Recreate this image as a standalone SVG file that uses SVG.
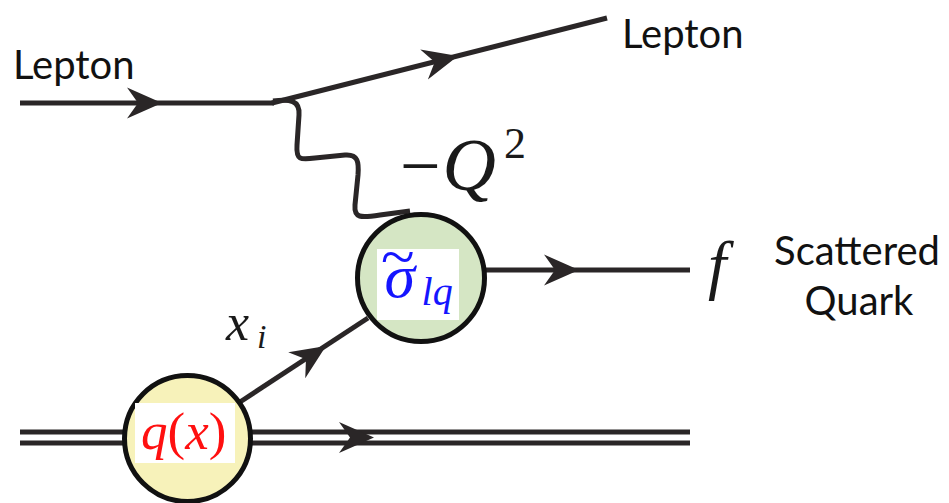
<svg xmlns="http://www.w3.org/2000/svg" width="949" height="503" viewBox="0 0 949 503">
<style>
.ln{stroke:#2a2627;stroke-width:5;fill:none}
.ah{fill:#2a2627}
.lbl{font-family:Lato,"Liberation Sans",sans-serif;font-size:40px;fill:#111}
.m{font-family:"Liberation Serif",serif;font-style:italic;fill:#1a1a1a}
.mu{font-family:"Liberation Serif",serif;fill:#1a1a1a}
.node{stroke:#111;stroke-width:5}
.blue{fill:#1515ff}
.red{fill:#ff1010}
</style>
<defs>
<path id="ah" d="M0,0 L-35,-15.5 L-24,0 L-35,15.5 Z"/>
</defs>
<rect width="949" height="503" fill="#fff"/>
<g id="connectors">
<line class="ln" x1="20" y1="103" x2="274" y2="103"/>
<line class="ln" x1="272" y1="103" x2="607" y2="18"/>
<path class="ln" d="M273,101 C290,99 300,100 299,115 L297,145 C296,160 300,160 315,158 L345,155 C358,154 359,162 358,175 L355,205 C354,218 360,218 380,215 L410,211"/>
<line class="ln" x1="485" y1="270" x2="690" y2="270"/>
<line class="ln" x1="240" y1="402" x2="368" y2="318"/>
<line class="ln" x1="20" y1="432" x2="690" y2="432" style="stroke-width:4.8"/>
<line class="ln" x1="20" y1="443" x2="690" y2="443" style="stroke-width:4.8"/>
<use href="#ah" class="ah" transform="translate(162,103)"/>
<use href="#ah" class="ah" transform="translate(458,56) rotate(-14.2)"/>
<use href="#ah" class="ah" transform="translate(326,346) rotate(-33.3)"/>
<use href="#ah" class="ah" transform="translate(579,270)"/>
<use href="#ah" class="ah" transform="translate(374,437.5)"/>
</g>
<g id="label-lepton-in"><text class="lbl" x="13" y="79">Lepton</text></g>
<g id="label-lepton-out"><text class="lbl" x="622" y="48">Lepton</text></g>
<g id="label-q2">
<text x="400" y="190" font-size="72"><tspan class="mu">−</tspan><tspan class="m" font-size="74" dx="2">Q</tspan><tspan class="mu" font-size="44" dx="8" dy="-32">2</tspan></text>
</g>
<g id="sigma">
<circle class="node" cx="421" cy="278" r="63.5" fill="#d5e6c4"/>
<rect x="377" y="249" width="82" height="71" fill="#fff"/>
<text x="381" y="297" font-size="62"><tspan class="m blue">σ</tspan><tspan class="mu blue" dx="-34" dy="-20">~</tspan><tspan class="m blue" font-size="40" dy="28" dx="7">lq</tspan></text>
</g>
<g id="pdf">
<circle class="node" cx="187.5" cy="438.5" r="63" fill="#f7f2ba"/>
<rect x="135" y="403" width="100" height="60" fill="#fff"/>
<text x="141" y="449" font-size="53"><tspan class="m red">q</tspan><tspan class="mu red">(</tspan><tspan class="m red">x</tspan><tspan class="mu red">)</tspan></text>
</g>
<g id="label-xi">
<text x="226" y="340" font-size="52"><tspan class="m">x</tspan><tspan class="m" font-size="34" dx="8" dy="8">i</tspan></text>
</g>
<g id="label-f">
<text class="m" x="708" y="287" font-size="66">f</text>
</g>
<g id="label-scattered">
<text class="lbl" x="857" y="265" text-anchor="middle">Scattered</text>
<text class="lbl" x="859" y="315" text-anchor="middle">Quark</text>
</g>
</svg>
